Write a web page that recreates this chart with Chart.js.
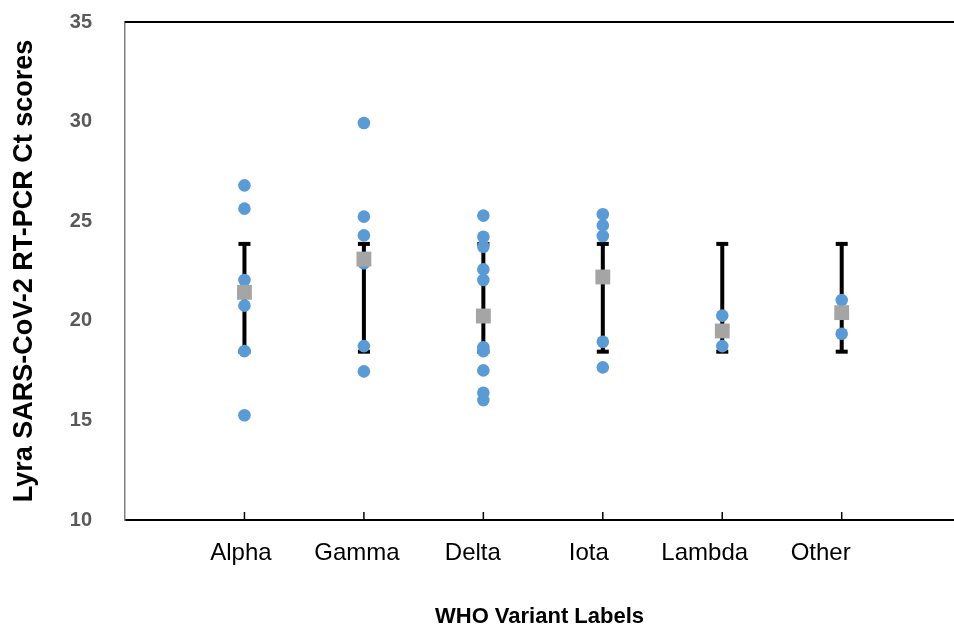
<!DOCTYPE html>
<html>
<head>
<meta charset="utf-8">
<script src="https://cdn.jsdelivr.net/npm/chart.js@4/dist/chart.umd.min.js"></script>
<style>
  html, body { margin: 0; padding: 0; background: #fff; overflow: hidden; }
  canvas { display: block; }
</style>
</head>
<body>
<canvas id="chart" width="954" height="630" style="width:954px;height:630px"></canvas>
<script>
  // variant labels
  const variants = ['Alpha', 'Gamma', 'Delta', 'Iota', 'Lambda', 'Other'];

  // individual Ct scores
  const alphaCt = [26.8, 25.63, 22.05, 20.76, 18.48, 15.26];
  const gammaCt = [29.93, 25.23, 24.29, 22.89, 18.73, 17.46];
  const deltaCt = [25.28, 24.22, 23.72, 22.58, 22.05, 18.67, 18.48, 17.51, 16.39, 16.02];
  const iotaCt = [25.35, 24.79, 24.26, 18.95, 17.66];
  const lambdaCt = [20.26, 18.73];
  const otherCt = [21.04, 19.35];

  // mean per variant (grey squares)
  const meanCt = [21.43, 23.10, 20.24, 22.2, 19.49, 20.41];
  // error bar ends
  const errLow = [18.45, 18.45, 18.45, 18.45, 18.45, 18.45];
  const errHigh = [23.86, 23.86, 23.86, 23.86, 23.86, 23.86];

  const yTicks = [10, 15, 20, 25, 30, 35];

  const FONT = "'Liberation Sans', Arial, sans-serif";

  // build scatter points
  const groups = [alphaCt, gammaCt, deltaCt, iotaCt, lambdaCt, otherCt];
  const scorePoints = [];
  groups.forEach((vals, i) => {
    vals.forEach(v => scorePoints.push({ x: i + 1, y: v }));
  });
  const meanPoints = meanCt.map((v, i) => ({ x: i + 1, y: v }));
  const errPoints = [];
  errLow.forEach((lo, i) => {
    errPoints.push({ x: i + 1, y: lo });
    errPoints.push({ x: i + 1, y: errHigh[i] });
    errPoints.push({ x: i + 1, y: null });
  });

  // top frame line + inward tick marks on the x axis
  const framePlugin = {
    id: 'frame',
    beforeDatasetsDraw(chart) {
      const { ctx, chartArea, scales } = chart;
      ctx.save();
      ctx.strokeStyle = '#000';
      ctx.lineWidth = 2;
      ctx.beginPath();
      ctx.moveTo(chartArea.left, chartArea.top);
      ctx.lineTo(chartArea.right, chartArea.top);
      ctx.stroke();
      ctx.lineWidth = 1.5;
      variants.forEach((v, i) => {
        const px = scales.xd.getPixelForValue(i + 1);
        ctx.beginPath();
        ctx.moveTo(px, chartArea.bottom);
        ctx.lineTo(px, chartArea.bottom - 8);
        ctx.stroke();
      });
      ctx.restore();
    }
  };

  new Chart(document.getElementById('chart'), {
    type: 'scatter',
    data: {
      datasets: [
        {
          label: 'Mean',
          data: meanPoints,
          xAxisID: 'xd',
          pointStyle: 'rect',
          pointRadius: 10.5,
          backgroundColor: '#A5A5A5',
          borderWidth: 0
        },
        {
          label: 'Ct',
          data: scorePoints,
          xAxisID: 'xd',
          pointStyle: 'circle',
          pointRadius: 6.3,
          backgroundColor: '#5B9BD5',
          borderWidth: 0
        },
        {
          label: 'Error',
          data: errPoints,
          xAxisID: 'xd',
          showLine: true,
          spanGaps: false,
          borderColor: '#000',
          borderWidth: 4,
          pointStyle: 'line',
          pointRadius: 6,
          pointBorderWidth: 4,
          pointBorderColor: '#000',
          backgroundColor: '#000'
        }
      ]
    },
    options: {
      responsive: false,
      animation: false,
      layout: { autoPadding: false, padding: { top: 22, right: 0, bottom: 0, left: 0 } },
      plugins: {
        legend: { display: false },
        tooltip: { enabled: false }
      },
      scales: {
        // plotting axis for the marks (hidden)
        xd: {
          type: 'linear',
          position: 'bottom',
          display: false,
          min: 0,
          max: 6.94
        },
        // label axis
        x: {
          type: 'linear',
          position: 'bottom',
          min: 0,
          max: 7.15,
          afterBuildTicks: (scale) => {
            scale.ticks = variants.map((v, i) => ({ value: i + 1 }));
          },
          afterFit: (scale) => {
            scale.height = 110;
            scale.paddingLeft = 0;
            scale.paddingRight = 0;
          },
          grid: { display: false, drawTicks: false },
          border: { color: '#000', width: 2 },
          ticks: {
            autoSkip: false,
            maxRotation: 0,
            padding: 19,
            color: '#000',
            font: { family: FONT, size: 24 },
            callback: (v) => variants[v - 1] || ''
          },
          title: {
            display: true,
            text: 'WHO Variant Labels',
            color: '#000',
            font: { family: FONT, size: 22, weight: 'bold' },
            padding: { top: 0, bottom: 0 }
          }
        },
        y: {
          min: 10,
          max: 35,
          afterBuildTicks: (scale) => {
            scale.ticks = yTicks.map(v => ({ value: v }));
          },
          afterFit: (scale) => {
            scale.width = 125;
            scale.paddingTop = 0;
            scale.paddingBottom = 0;
          },
          grid: { display: false, drawTicks: false },
          border: { color: '#7f7f7f', width: 1.5 },
          ticks: {
            padding: 33,
            color: '#595959',
            font: { family: FONT, size: 20, weight: 'bold' }
          },
          title: {
            display: true,
            text: 'Lyra SARS-CoV-2 RT-PCR Ct scores',
            color: '#000',
            font: { family: FONT, size: 27, weight: 'bold' },
            padding: { top: 8, bottom: 0 }
          }
        }
      }
    },
    plugins: [framePlugin]
  });
</script>
</body>
</html>
